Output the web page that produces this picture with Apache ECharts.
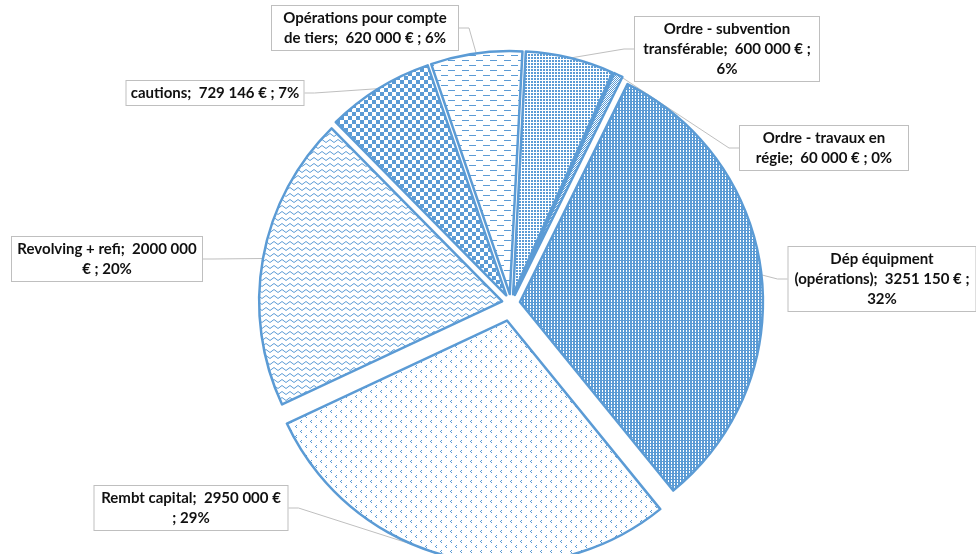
<!DOCTYPE html>
<html><head><meta charset="utf-8">
<script src="https://cdn.jsdelivr.net/npm/echarts@6/dist/echarts.min.js"></script>
<style>html,body{margin:0;padding:0;background:#fff}#c{width:976px;height:554px}</style>
</head><body><div id="c"></div>
<script>
// ---- data ----
const categories = ['Ordre - subvention transférable', 'Ordre - travaux en régie', 'Dép équipment (opérations)', 'Rembt capital', 'Revolving + refi', 'cautions', 'Opérations pour compte de tiers'];
const values = [600000, 60000, 3251150, 2950000, 2000000, 729146, 620000];
const percentLabels = ['6%', '0%', '32%', '29%', '20%', '7%', '6%'];

// ---- layout (not data) ----
const labelCenters = [[727, 49], [824, 148], [882, 279], [191, 508], [107, 259], [215, 93], [365, 28]];
const labelWidths = [176, 160, 179, 185, 182, 169, 178];
// word index at which each new label line starts
const labelBreaks = [[3, 9], [4], [2, 8], [6], [6], [], [3]];
const explode = [9, 9, 9, 18, 9, 9, 9];
const CX = 511, CY = 303, R = 243, START = 87;
const BLUE = '#5B9BD5';

function makePattern(w, h, draw) {
  const c = document.createElement('canvas');
  c.width = w; c.height = h;
  const g = c.getContext('2d');
  g.fillStyle = '#fff'; g.fillRect(0, 0, w, h);
  g.fillStyle = BLUE; g.strokeStyle = BLUE;
  draw(g);
  return { image: c, repeat: 'repeat' };
}
const patterns = [
  makePattern(3, 3, g => { g.fillRect(0, 0, 2, 2); }),
  makePattern(2, 2, g => { g.fillRect(0, 0, 1, 1); g.fillRect(1, 1, 1, 1); }),
  makePattern(3, 3, g => { g.fillRect(0, 0, 2, 3); g.fillRect(2, 2, 1, 1); }),
  makePattern(10, 10, g => {
    g.fillRect(1, 0, 1, 1); g.fillRect(0, 1, 1, 1); g.fillRect(1, 2, 1, 1);
    g.fillRect(6, 5, 1, 1); g.fillRect(5, 6, 1, 1); g.fillRect(6, 7, 1, 1);
  }),
  makePattern(8, 6, g => {
    g.lineWidth = 1; g.beginPath();
    g.moveTo(0, 3); g.lineTo(2, 1.5); g.lineTo(4, 3); g.lineTo(6, 4.5); g.lineTo(8, 3); g.stroke();
  }),
  makePattern(8, 8, g => { g.fillRect(0, 0, 4, 4); g.fillRect(4, 4, 4, 4); }),
  makePattern(14, 10, g => { g.fillRect(0, 0, 7, 1); g.fillRect(7, 5, 7, 1); })
];

function fmt(v) {
  const th = Math.floor(v / 1000);
  const r = String(v % 1000).padStart(3, '0');
  return th + ' ' + r;
}
function labelText(i) {
  const s = categories[i] + ';  ' + fmt(values[i]) + ' € ; ' + percentLabels[i];
  const tok = s.split(' ');
  const cuts = [0].concat(labelBreaks[i], [tok.length]);
  const lines = [];
  for (let j = 0; j < cuts.length - 1; j++) lines.push(tok.slice(cuts[j], cuts[j + 1]).join(' '));
  return lines.join('\n');
}

const total = values.reduce((a, b) => a + b, 0);
let cum = 0;
const mids = values.map(v => { const m = (cum + v / 2) / total; cum += v; return m; });

const series = categories.map((_, k) => {
  const a = (START - 360 * mids[k]) * Math.PI / 180;
  const center = [CX + Math.cos(a) * explode[k], CY - Math.sin(a) * explode[k]];
  return {
    type: 'pie',
    center: center,
    radius: [0, R],
    startAngle: START,
    clockwise: true,
    animation: false,
    silent: true,
    emphasis: { disabled: true },
    labelLayout: function (p) {
      const c = labelCenters[p.dataIndex];
      return { x: c[0], y: c[1], align: 'center', verticalAlign: 'middle' };
    },
    data: categories.map((name, i) => {
      const visible = i === k;
      return {
        name: name,
        value: values[i],
        itemStyle: visible
          ? { color: patterns[i], borderColor: BLUE, borderWidth: 2.5 }
          : { color: 'rgba(0,0,0,0)', borderWidth: 0 },
        label: visible ? {
          show: true,
          position: 'outside',
          formatter: labelText(i),
          width: labelWidths[i],
          overflow: 'none',
          align: 'center',
          fontFamily: 'Lato',
          fontWeight: 'bold',
          fontSize: 15,
          lineHeight: 20,
          color: '#111',
          backgroundColor: '#fff',
          borderColor: '#bfbfbf',
          borderWidth: 1,
          padding: [2, 4]
        } : { show: false },
        labelLine: visible ? {
          show: true, length: 10, length2: 10,
          lineStyle: { color: '#bfbfbf', width: 1 }
        } : { show: false }
      };
    })
  };
});

const chart = echarts.init(document.getElementById('c'), null, { renderer: 'canvas' });
chart.setOption({ backgroundColor: '#fff', animation: false, series: series });
</script>
</body></html>
